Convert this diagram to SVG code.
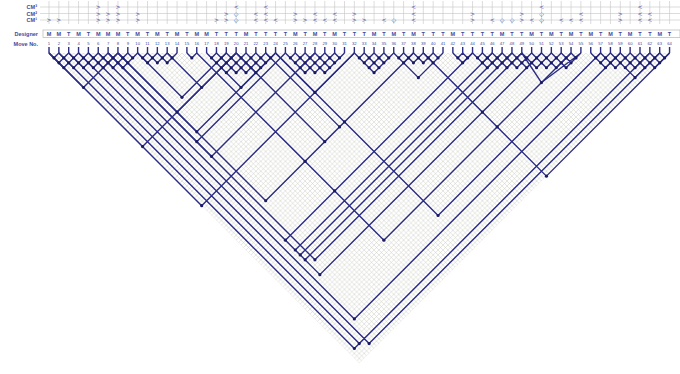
<svg xmlns="http://www.w3.org/2000/svg" width="680" height="374" viewBox="0 0 680 374">
<style>
.lbl{font-family:"Liberation Sans",Arial,sans-serif;font-weight:bold;fill:#3d4a9e;font-size:5.5px;text-anchor:end}
.num{font-family:"Liberation Sans",Arial,sans-serif;fill:#3d4a9e;font-size:4.2px;text-anchor:middle}
.des{font-family:"Liberation Sans",Arial,sans-serif;font-weight:bold;fill:#3d4a9e;font-size:5.5px;text-anchor:middle}
.sym{font-family:"DejaVu Sans",sans-serif;fill:#3d4a9e;font-size:6px;text-anchor:middle}
.hl{stroke:#c4c4c4;stroke-width:0.6;fill:none;vector-effect:non-scaling-stroke}
.lk{stroke:#2b2d84;stroke-width:1.4;fill:none;vector-effect:non-scaling-stroke;stroke-linejoin:round}
.dot{fill:#1a1a60}
</style>
<defs>
<pattern id="g" width="1" height="1" patternUnits="userSpaceOnUse">
<path d="M0 0L1 1M1 0L0 1" stroke="#c2c2ba" stroke-width="0.09"/>
</pattern>
</defs>
<rect width="680" height="374" fill="#fff"/>
<g id="header">
<path class="hl" d="M40 7H680M40 13.5H680M40 20H680"/>
<path class="hl" transform="translate(49,0) scale(9.85,1)" d="M0 1V24M1 1V24M2 1V24M3 1V24M4 1V24M5 1V24M6 1V24M7 1V24M8 1V24M9 1V24M10 1V24M11 1V24M12 1V24M13 1V24M14 1V24M15 1V24M16 1V24M17 1V24M18 1V24M19 1V24M20 1V24M21 1V24M22 1V24M23 1V24M24 1V24M25 1V24M26 1V24M27 1V24M28 1V24M29 1V24M30 1V24M31 1V24M32 1V24M33 1V24M34 1V24M35 1V24M36 1V24M37 1V24M38 1V24M39 1V24M40 1V24M41 1V24M42 1V24M43 1V24M44 1V24M45 1V24M46 1V24M47 1V24M48 1V24M49 1V24M50 1V24M51 1V24M52 1V24M53 1V24M54 1V24M55 1V24M56 1V24M57 1V24M58 1V24M59 1V24M60 1V24M61 1V24M62 1V24M63 1V24"/>
<text class="lbl" x="37" y="9">CM³</text>
<text class="lbl" x="37" y="15.5">CM²</text>
<text class="lbl" x="37" y="22">CM¹</text>
<text class="lbl" x="38" y="35.5">Designer</text>
<text class="lbl" x="38" y="45.5">Move No.</text>
<rect x="43" y="30" width="637" height="7.5" fill="none" stroke="#aaa" stroke-width="0.6"/>
</g>
<g id="moves" transform="translate(49,0)">
<g id="m1" transform="translate(0,0)"><text class="des" y="35.5">M</text><text class="num" y="45">1</text><text class="sym" y="22">&gt;</text></g>
<g id="m2" transform="translate(9.85,0)"><text class="des" y="35.5">M</text><text class="num" y="45">2</text><text class="sym" y="22">&gt;</text></g>
<g id="m3" transform="translate(19.7,0)"><text class="des" y="35.5">T</text><text class="num" y="45">3</text></g>
<g id="m4" transform="translate(29.55,0)"><text class="des" y="35.5">M</text><text class="num" y="45">4</text></g>
<g id="m5" transform="translate(39.4,0)"><text class="des" y="35.5">T</text><text class="num" y="45">5</text></g>
<g id="m6" transform="translate(49.25,0)"><text class="des" y="35.5">M</text><text class="num" y="45">6</text><text class="sym" y="9">&gt;</text><text class="sym" y="15.5">&gt;</text><text class="sym" y="22">&gt;</text></g>
<g id="m7" transform="translate(59.1,0)"><text class="des" y="35.5">M</text><text class="num" y="45">7</text><text class="sym" y="15.5">&gt;</text><text class="sym" y="22">&gt;</text></g>
<g id="m8" transform="translate(68.95,0)"><text class="des" y="35.5">M</text><text class="num" y="45">8</text><text class="sym" y="9">&gt;</text><text class="sym" y="15.5">&gt;</text><text class="sym" y="22">&gt;</text></g>
<g id="m9" transform="translate(78.8,0)"><text class="des" y="35.5">T</text><text class="num" y="45">9</text></g>
<g id="m10" transform="translate(88.65,0)"><text class="des" y="35.5">M</text><text class="num" y="45">10</text><text class="sym" y="15.5">&gt;</text><text class="sym" y="22">&gt;</text></g>
<g id="m11" transform="translate(98.5,0)"><text class="des" y="35.5">T</text><text class="num" y="45">11</text></g>
<g id="m12" transform="translate(108.35,0)"><text class="des" y="35.5">M</text><text class="num" y="45">12</text></g>
<g id="m13" transform="translate(118.2,0)"><text class="des" y="35.5">T</text><text class="num" y="45">13</text></g>
<g id="m14" transform="translate(128.05,0)"><text class="des" y="35.5">M</text><text class="num" y="45">14</text></g>
<g id="m15" transform="translate(137.9,0)"><text class="des" y="35.5">T</text><text class="num" y="45">15</text></g>
<g id="m16" transform="translate(147.75,0)"><text class="des" y="35.5">M</text><text class="num" y="45">16</text></g>
<g id="m17" transform="translate(157.6,0)"><text class="des" y="35.5">M</text><text class="num" y="45">17</text></g>
<g id="m18" transform="translate(167.45,0)"><text class="des" y="35.5">T</text><text class="num" y="45">18</text><text class="sym" y="22">&gt;</text></g>
<g id="m19" transform="translate(177.3,0)"><text class="des" y="35.5">T</text><text class="num" y="45">19</text><text class="sym" y="15.5">&gt;</text><text class="sym" y="22">&gt;</text></g>
<g id="m20" transform="translate(187.15,0)"><text class="des" y="35.5">T</text><text class="num" y="45">20</text><text class="sym" y="9">&lt;</text><text class="sym" y="15.5">◇</text><text class="sym" y="22">◇</text></g>
<g id="m21" transform="translate(197,0)"><text class="des" y="35.5">M</text><text class="num" y="45">21</text></g>
<g id="m22" transform="translate(206.85,0)"><text class="des" y="35.5">T</text><text class="num" y="45">22</text><text class="sym" y="15.5">&lt;</text><text class="sym" y="22">&lt;</text></g>
<g id="m23" transform="translate(216.7,0)"><text class="des" y="35.5">T</text><text class="num" y="45">23</text><text class="sym" y="9">&lt;</text><text class="sym" y="15.5">&lt;</text><text class="sym" y="22">&lt;</text></g>
<g id="m24" transform="translate(226.55,0)"><text class="des" y="35.5">T</text><text class="num" y="45">24</text><text class="sym" y="22">&lt;</text></g>
<g id="m25" transform="translate(236.4,0)"><text class="des" y="35.5">T</text><text class="num" y="45">25</text></g>
<g id="m26" transform="translate(246.25,0)"><text class="des" y="35.5">M</text><text class="num" y="45">26</text><text class="sym" y="15.5">&gt;</text><text class="sym" y="22">&gt;</text></g>
<g id="m27" transform="translate(256.1,0)"><text class="des" y="35.5">T</text><text class="num" y="45">27</text><text class="sym" y="22">&gt;</text></g>
<g id="m28" transform="translate(265.95,0)"><text class="des" y="35.5">M</text><text class="num" y="45">28</text><text class="sym" y="15.5">&lt;</text><text class="sym" y="22">&lt;</text></g>
<g id="m29" transform="translate(275.8,0)"><text class="des" y="35.5">T</text><text class="num" y="45">29</text><text class="sym" y="22">&lt;</text></g>
<g id="m30" transform="translate(285.65,0)"><text class="des" y="35.5">M</text><text class="num" y="45">30</text><text class="sym" y="15.5">&lt;</text><text class="sym" y="22">&lt;</text></g>
<g id="m31" transform="translate(295.5,0)"><text class="des" y="35.5">T</text><text class="num" y="45">31</text></g>
<g id="m32" transform="translate(305.35,0)"><text class="des" y="35.5">T</text><text class="num" y="45">32</text><text class="sym" y="15.5">&gt;</text><text class="sym" y="22">&gt;</text></g>
<g id="m33" transform="translate(315.2,0)"><text class="des" y="35.5">T</text><text class="num" y="45">33</text><text class="sym" y="22">&gt;</text></g>
<g id="m34" transform="translate(325.05,0)"><text class="des" y="35.5">M</text><text class="num" y="45">34</text></g>
<g id="m35" transform="translate(334.9,0)"><text class="des" y="35.5">T</text><text class="num" y="45">35</text><text class="sym" y="22">&lt;</text></g>
<g id="m36" transform="translate(344.75,0)"><text class="des" y="35.5">M</text><text class="num" y="45">36</text><text class="sym" y="22">◇</text></g>
<g id="m37" transform="translate(354.6,0)"><text class="des" y="35.5">T</text><text class="num" y="45">37</text></g>
<g id="m38" transform="translate(364.45,0)"><text class="des" y="35.5">M</text><text class="num" y="45">38</text><text class="sym" y="9">&lt;</text><text class="sym" y="15.5">&lt;</text><text class="sym" y="22">&lt;</text></g>
<g id="m39" transform="translate(374.3,0)"><text class="des" y="35.5">T</text><text class="num" y="45">39</text></g>
<g id="m40" transform="translate(384.15,0)"><text class="des" y="35.5">T</text><text class="num" y="45">40</text></g>
<g id="m41" transform="translate(394,0)"><text class="des" y="35.5">T</text><text class="num" y="45">41</text></g>
<g id="m42" transform="translate(403.85,0)"><text class="des" y="35.5">M</text><text class="num" y="45">42</text></g>
<g id="m43" transform="translate(413.7,0)"><text class="des" y="35.5">T</text><text class="num" y="45">43</text></g>
<g id="m44" transform="translate(423.55,0)"><text class="des" y="35.5">T</text><text class="num" y="45">44</text><text class="sym" y="15.5">&gt;</text><text class="sym" y="22">&gt;</text></g>
<g id="m45" transform="translate(433.4,0)"><text class="des" y="35.5">T</text><text class="num" y="45">45</text></g>
<g id="m46" transform="translate(443.25,0)"><text class="des" y="35.5">T</text><text class="num" y="45">46</text><text class="sym" y="22">&lt;</text></g>
<g id="m47" transform="translate(453.1,0)"><text class="des" y="35.5">M</text><text class="num" y="45">47</text><text class="sym" y="22">◇</text></g>
<g id="m48" transform="translate(462.95,0)"><text class="des" y="35.5">T</text><text class="num" y="45">48</text><text class="sym" y="22">◇</text></g>
<g id="m49" transform="translate(472.8,0)"><text class="des" y="35.5">T</text><text class="num" y="45">49</text><text class="sym" y="15.5">&gt;</text><text class="sym" y="22">&gt;</text></g>
<g id="m50" transform="translate(482.65,0)"><text class="des" y="35.5">M</text><text class="num" y="45">50</text><text class="sym" y="22">&lt;</text></g>
<g id="m51" transform="translate(492.5,0)"><text class="des" y="35.5">T</text><text class="num" y="45">51</text><text class="sym" y="9">&lt;</text><text class="sym" y="15.5">◇</text><text class="sym" y="22">◇</text></g>
<g id="m52" transform="translate(502.35,0)"><text class="des" y="35.5">M</text><text class="num" y="45">52</text></g>
<g id="m53" transform="translate(512.2,0)"><text class="des" y="35.5">T</text><text class="num" y="45">53</text><text class="sym" y="22">&lt;</text></g>
<g id="m54" transform="translate(522.05,0)"><text class="des" y="35.5">M</text><text class="num" y="45">54</text><text class="sym" y="22">&lt;</text></g>
<g id="m55" transform="translate(531.9,0)"><text class="des" y="35.5">T</text><text class="num" y="45">55</text><text class="sym" y="15.5">&lt;</text><text class="sym" y="22">&lt;</text></g>
<g id="m56" transform="translate(541.75,0)"><text class="des" y="35.5">M</text><text class="num" y="45">56</text></g>
<g id="m57" transform="translate(551.6,0)"><text class="des" y="35.5">T</text><text class="num" y="45">57</text></g>
<g id="m58" transform="translate(561.45,0)"><text class="des" y="35.5">M</text><text class="num" y="45">58</text></g>
<g id="m59" transform="translate(571.3,0)"><text class="des" y="35.5">T</text><text class="num" y="45">59</text><text class="sym" y="15.5">&gt;</text><text class="sym" y="22">&gt;</text></g>
<g id="m60" transform="translate(581.15,0)"><text class="des" y="35.5">M</text><text class="num" y="45">60</text></g>
<g id="m61" transform="translate(591,0)"><text class="des" y="35.5">T</text><text class="num" y="45">61</text><text class="sym" y="9">&lt;</text><text class="sym" y="15.5">&lt;</text><text class="sym" y="22">&lt;</text></g>
<g id="m62" transform="translate(600.85,0)"><text class="des" y="35.5">T</text><text class="num" y="45">62</text><text class="sym" y="15.5">&lt;</text><text class="sym" y="22">&lt;</text></g>
<g id="m63" transform="translate(610.7,0)"><text class="des" y="35.5">M</text><text class="num" y="45">63</text></g>
<g id="m64" transform="translate(620.55,0)"><text class="des" y="35.5">T</text><text class="num" y="45">64</text></g>
</g>
<g id="grid" transform="translate(49,53) scale(4.925)">
<polygon points="0,0 126,0 63,63" fill="url(#g)"/>
</g>
<g id="links" transform="translate(49,53) scale(4.925)">
<path class="lk" d="M0 -1.2V0M2 -1.2V0M4 -1.2V0M6 -1.2V0M8 -1.2V0M10 -1.2V0M12 -1.2V0M14 -1.2V0M16 -1.2V0M18 -1.2V0M20 -1.2V0M22 -1.2V0M24 -1.2V0M26 -1.2V0M28 -1.2V0M30 -1.2V0M32 -1.2V0M34 -1.2V0M36 -1.2V0M38 -1.2V0M40 -1.2V0M42 -1.2V0M44 -1.2V0M46 -1.2V0M48 -1.2V0M50 -1.2V0M52 -1.2V0M54 -1.2V0M56 -1.2V0M58 -1.2V0M60 -1.2V0M62 -1.2V0M64 -1.2V0M66 -1.2V0M68 -1.2V0M70 -1.2V0M72 -1.2V0M74 -1.2V0M76 -1.2V0M78 -1.2V0M80 -1.2V0M82 -1.2V0M84 -1.2V0M86 -1.2V0M88 -1.2V0M90 -1.2V0M92 -1.2V0M94 -1.2V0M96 -1.2V0M98 -1.2V0M100 -1.2V0M102 -1.2V0M104 -1.2V0M106 -1.2V0M108 -1.2V0M110 -1.2V0M112 -1.2V0M114 -1.2V0M116 -1.2V0M118 -1.2V0M120 -1.2V0M122 -1.2V0M124 -1.2V0M126 -1.2V0"/>
<path class="lk" d="M0 0l3 3M2 0l3 3M2 0l-1 1M4 0l3 3M4 0l-2 2M6 0l3 3M6 0l-3 3M8 0l3 3M8 0l-3 3M10 0l3 3M10 0l-3 3M12 0l3 3M12 0l-3 3M14 0l2 2M14 0l-3 3M16 0l1 1M16 0l-3 3M18 0l-3 3"/>
<path class="lk" d="M18 0l2 2M20 0l2 2M20 0l-1 1M22 0l2 2M22 0l-2 2M24 0l1 1M24 0l-2 2M26 0l-2 2M28 0l1 1l1 -1"/>
<path class="lk" d="M32 0l4 4M34 0l4 4M34 0l-1 1M36 0l4 4M36 0l-2 2M38 0l4 4M38 0l-3 3M40 0l3 3M40 0l-4 4M42 0l2 2M42 0l-4 4M44 0l1 1M44 0l-4 4M46 0l-4 4M32 0L39 7L46 0"/>
<path class="lk" d="M48 0l4 4M50 0l4 4M50 0l-1 1M52 0l4 4M52 0l-2 2M54 0l3 3M54 0l-3 3M56 0l2 2M56 0l-4 4M58 0l1 1M58 0l-4 4M60 0l-4 4M46 0L54 8L62 0"/>
<path class="lk" d="M62 0l4 4M64 0l3 3M64 0l-1 1M66 0l2 2M66 0l-2 2M68 0l1 1M68 0l-3 3M70 0l-4 4"/>
<path class="lk" d="M70 0L75 5L80 0M72 0l2 2M72 0l-1 1M74 0l2 2M74 0l-2 2M76 0l2 2M76 0l-2 2M78 0l1 1M78 0l-2 2M82 0l2 2l2 -2M84 0l-1 1M84 0l1 1"/>
<path class="lk" d="M86 0l3 3M88 0l3 3M88 0l-1 1M90 0l3 3M90 0l-2 2M92 0l3 3M92 0l-3 3M94 0l3 3M94 0l-3 3M96 0l3 3M96 0l-3 3M98 0l3 3M98 0l-3 3M100 0l3 3M100 0l-3 3M102 0l3 3M102 0l-3 3M104 0l2 2M104 0l-3 3M106 0l1 1M106 0l-3 3M108 0l-3 3M96 0L100 6L108 0"/>
<path class="lk" d="M110 0l3 3M112 0l3 3M112 0l-1 1M114 0l3 3M114 0l-2 2M116 0l3 3M116 0l-3 3M118 0l3 3M118 0l-3 3M120 0l3 3M120 0l-3 3M122 0l2 2M122 0l-3 3M124 0l1 1M124 0l-3 3M126 0l-3 3M114 0L119 5L124 0"/>
<path class="lk" d="M0 0L7 7L14 0M14 0L26 12L38 0M14 0L30 16L46 0M12 0L30 18L48 0M12 0L33 21L54 0M18 0L27 9L36 0M24 0L31 7L38 0"/>
<path class="lk" d="M0 0L19 19L38 0M0 0L31 31L62 0M2 0L62 60L122 0M4 0L63 59L122 0M6 0L65 59L124 0M8 0L62 54L116 0M10 0L48 38L86 0M10 0L50 40L90 0M10 0L51 41L92 0M10 0L52 42L94 0M10 0L55 45L100 0M12 0L54 42L96 0M14 0L44 30L74 0M30 0L52 22L74 0M30 0L58 28L86 0M30 0L68 38L106 0M38 0L56 18L74 0M44 0L59 15L74 0M46 0L60 14L74 0M46 0L79 33L112 0M76 0L88 12L100 0M76 0L91 15L106 0M76 0L101 25L126 0"/>
<g class="dot">
<circle cx="1" cy="1" r="0.32"/><circle cx="3" cy="1" r="0.32"/><circle cx="5" cy="1" r="0.32"/><circle cx="7" cy="1" r="0.32"/><circle cx="9" cy="1" r="0.32"/><circle cx="11" cy="1" r="0.32"/><circle cx="13" cy="1" r="0.32"/><circle cx="15" cy="1" r="0.32"/><circle cx="17" cy="1" r="0.32"/>
<circle cx="2" cy="2" r="0.32"/><circle cx="4" cy="2" r="0.32"/><circle cx="6" cy="2" r="0.32"/><circle cx="8" cy="2" r="0.32"/><circle cx="10" cy="2" r="0.32"/><circle cx="12" cy="2" r="0.32"/><circle cx="14" cy="2" r="0.32"/><circle cx="16" cy="2" r="0.32"/>
<circle cx="3" cy="3" r="0.32"/><circle cx="5" cy="3" r="0.32"/><circle cx="7" cy="3" r="0.32"/><circle cx="9" cy="3" r="0.32"/><circle cx="11" cy="3" r="0.32"/><circle cx="13" cy="3" r="0.32"/><circle cx="15" cy="3" r="0.32"/>
<circle cx="19" cy="1" r="0.32"/><circle cx="21" cy="1" r="0.32"/><circle cx="23" cy="1" r="0.32"/><circle cx="25" cy="1" r="0.32"/><circle cx="20" cy="2" r="0.32"/><circle cx="22" cy="2" r="0.32"/><circle cx="24" cy="2" r="0.32"/><circle cx="29" cy="1" r="0.32"/>
<circle cx="33" cy="1" r="0.32"/><circle cx="35" cy="1" r="0.32"/><circle cx="37" cy="1" r="0.32"/><circle cx="39" cy="1" r="0.32"/><circle cx="41" cy="1" r="0.32"/><circle cx="43" cy="1" r="0.32"/><circle cx="45" cy="1" r="0.32"/>
<circle cx="34" cy="2" r="0.32"/><circle cx="36" cy="2" r="0.32"/><circle cx="38" cy="2" r="0.32"/><circle cx="40" cy="2" r="0.32"/><circle cx="42" cy="2" r="0.32"/><circle cx="44" cy="2" r="0.32"/>
<circle cx="35" cy="3" r="0.32"/><circle cx="37" cy="3" r="0.32"/><circle cx="39" cy="3" r="0.32"/><circle cx="41" cy="3" r="0.32"/><circle cx="43" cy="3" r="0.32"/>
<circle cx="36" cy="4" r="0.32"/><circle cx="38" cy="4" r="0.32"/><circle cx="40" cy="4" r="0.32"/><circle cx="42" cy="4" r="0.32"/><circle cx="39" cy="7" r="0.32"/>
<circle cx="49" cy="1" r="0.32"/><circle cx="51" cy="1" r="0.32"/><circle cx="53" cy="1" r="0.32"/><circle cx="55" cy="1" r="0.32"/><circle cx="57" cy="1" r="0.32"/><circle cx="59" cy="1" r="0.32"/>
<circle cx="50" cy="2" r="0.32"/><circle cx="52" cy="2" r="0.32"/><circle cx="54" cy="2" r="0.32"/><circle cx="56" cy="2" r="0.32"/><circle cx="58" cy="2" r="0.32"/>
<circle cx="51" cy="3" r="0.32"/><circle cx="53" cy="3" r="0.32"/><circle cx="55" cy="3" r="0.32"/><circle cx="57" cy="3" r="0.32"/>
<circle cx="52" cy="4" r="0.32"/><circle cx="54" cy="4" r="0.32"/><circle cx="56" cy="4" r="0.32"/><circle cx="54" cy="8" r="0.32"/>
<circle cx="63" cy="1" r="0.32"/><circle cx="65" cy="1" r="0.32"/><circle cx="67" cy="1" r="0.32"/><circle cx="69" cy="1" r="0.32"/><circle cx="64" cy="2" r="0.32"/><circle cx="66" cy="2" r="0.32"/><circle cx="68" cy="2" r="0.32"/><circle cx="65" cy="3" r="0.32"/><circle cx="67" cy="3" r="0.32"/><circle cx="66" cy="4" r="0.32"/>
<circle cx="71" cy="1" r="0.32"/><circle cx="73" cy="1" r="0.32"/><circle cx="75" cy="1" r="0.32"/><circle cx="77" cy="1" r="0.32"/><circle cx="79" cy="1" r="0.32"/><circle cx="72" cy="2" r="0.32"/><circle cx="74" cy="2" r="0.32"/><circle cx="76" cy="2" r="0.32"/><circle cx="78" cy="2" r="0.32"/><circle cx="75" cy="5" r="0.32"/>
<circle cx="83" cy="1" r="0.32"/><circle cx="85" cy="1" r="0.32"/><circle cx="84" cy="2" r="0.32"/>
<circle cx="87" cy="1" r="0.32"/><circle cx="89" cy="1" r="0.32"/><circle cx="91" cy="1" r="0.32"/><circle cx="93" cy="1" r="0.32"/><circle cx="95" cy="1" r="0.32"/><circle cx="97" cy="1" r="0.32"/><circle cx="99" cy="1" r="0.32"/><circle cx="101" cy="1" r="0.32"/><circle cx="103" cy="1" r="0.32"/><circle cx="105" cy="1" r="0.32"/><circle cx="107" cy="1" r="0.32"/>
<circle cx="88" cy="2" r="0.32"/><circle cx="90" cy="2" r="0.32"/><circle cx="92" cy="2" r="0.32"/><circle cx="94" cy="2" r="0.32"/><circle cx="96" cy="2" r="0.32"/><circle cx="98" cy="2" r="0.32"/><circle cx="100" cy="2" r="0.32"/><circle cx="102" cy="2" r="0.32"/><circle cx="104" cy="2" r="0.32"/><circle cx="106" cy="2" r="0.32"/>
<circle cx="89" cy="3" r="0.32"/><circle cx="91" cy="3" r="0.32"/><circle cx="93" cy="3" r="0.32"/><circle cx="95" cy="3" r="0.32"/><circle cx="97" cy="3" r="0.32"/><circle cx="99" cy="3" r="0.32"/><circle cx="101" cy="3" r="0.32"/><circle cx="103" cy="3" r="0.32"/><circle cx="105" cy="3" r="0.32"/><circle cx="100" cy="6" r="0.32"/>
<circle cx="111" cy="1" r="0.32"/><circle cx="113" cy="1" r="0.32"/><circle cx="115" cy="1" r="0.32"/><circle cx="117" cy="1" r="0.32"/><circle cx="119" cy="1" r="0.32"/><circle cx="121" cy="1" r="0.32"/><circle cx="123" cy="1" r="0.32"/><circle cx="125" cy="1" r="0.32"/>
<circle cx="112" cy="2" r="0.32"/><circle cx="114" cy="2" r="0.32"/><circle cx="116" cy="2" r="0.32"/><circle cx="118" cy="2" r="0.32"/><circle cx="120" cy="2" r="0.32"/><circle cx="122" cy="2" r="0.32"/><circle cx="124" cy="2" r="0.32"/>
<circle cx="113" cy="3" r="0.32"/><circle cx="115" cy="3" r="0.32"/><circle cx="117" cy="3" r="0.32"/><circle cx="119" cy="3" r="0.32"/><circle cx="121" cy="3" r="0.32"/><circle cx="123" cy="3" r="0.32"/><circle cx="119" cy="5" r="0.32"/>
<circle cx="7" cy="7" r="0.32"/><circle cx="26" cy="12" r="0.32"/><circle cx="30" cy="16" r="0.32"/><circle cx="30" cy="18" r="0.32"/><circle cx="33" cy="21" r="0.32"/><circle cx="27" cy="9" r="0.32"/><circle cx="31" cy="7" r="0.32"/>
<circle cx="19" cy="19" r="0.32"/><circle cx="31" cy="31" r="0.32"/><circle cx="62" cy="60" r="0.32"/><circle cx="63" cy="59" r="0.32"/><circle cx="65" cy="59" r="0.32"/><circle cx="62" cy="54" r="0.32"/><circle cx="48" cy="38" r="0.32"/><circle cx="50" cy="40" r="0.32"/><circle cx="51" cy="41" r="0.32"/><circle cx="52" cy="42" r="0.32"/><circle cx="55" cy="45" r="0.32"/><circle cx="54" cy="42" r="0.32"/><circle cx="44" cy="30" r="0.32"/><circle cx="52" cy="22" r="0.32"/><circle cx="58" cy="28" r="0.32"/><circle cx="68" cy="38" r="0.32"/><circle cx="56" cy="18" r="0.32"/><circle cx="59" cy="15" r="0.32"/><circle cx="60" cy="14" r="0.32"/><circle cx="79" cy="33" r="0.32"/><circle cx="88" cy="12" r="0.32"/><circle cx="91" cy="15" r="0.32"/><circle cx="101" cy="25" r="0.32"/>
</g>
</g>
</svg>
